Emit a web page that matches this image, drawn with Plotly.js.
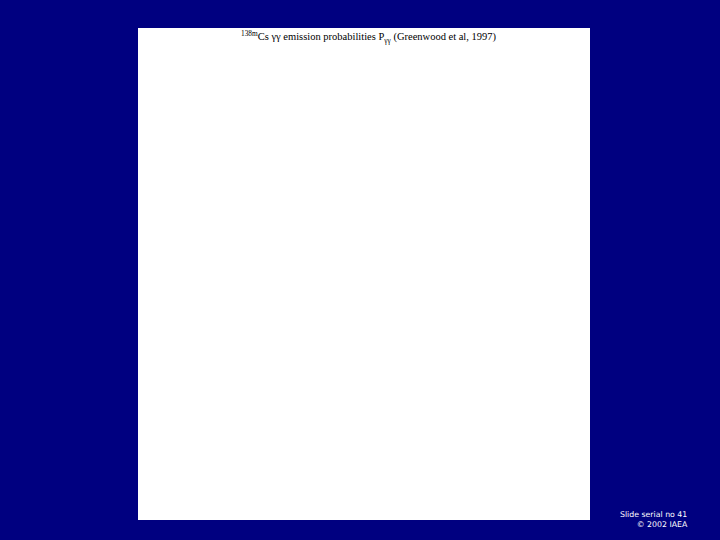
<!DOCTYPE html>
<html>
<head>
<meta charset="utf-8">
<script src="https://cdn.plot.ly/plotly-3.0.1.min.js"></script>
<style>
  html, body { margin: 0; padding: 0; background: #000080; }
  #chart { width: 720px; height: 540px; }
</style>
</head>
<body>
<div id="chart"></div>
<script>
// the slide holds an empty panel: no series were plotted
const energies = [];
const probabilities = [];

const nuclide = "<sup>138m</sup>Cs";
const titleText = nuclide + " γγ emission probabilities P<sub>γγ</sub> (Greenwood et al, 1997)";
const footerLines = ["Slide serial no 41", "© 2002 IAEA"];

const data = [
  {
    x: energies,
    y: probabilities,
    type: "scatter",
    mode: "markers",
    marker: { color: "black" },
    hoverinfo: "skip"
  }
];

const layout = {
  width: 720,
  height: 540,
  paper_bgcolor: "#000080",
  plot_bgcolor: "#ffffff",
  margin: { l: 138, r: 130, t: 28, b: 20 },
  showlegend: false,
  xaxis: { visible: false, showgrid: false, zeroline: false, range: [0, 1] },
  yaxis: { visible: false, showgrid: false, zeroline: false, range: [0, 1] },
  annotations: [
    {
      text: titleText,
      xref: "paper", yref: "paper",
      x: 0.51, y: 0.981,
      xanchor: "center", yanchor: "middle",
      showarrow: false,
      font: { family: "Liberation Serif, Times New Roman, serif", size: 10.5, color: "#000000" }
    },
    {
      text: footerLines.join("<br>"),
      xref: "paper", yref: "paper",
      x: 1.222, y: 0.002,
      xanchor: "right", yanchor: "middle",
      align: "right",
      showarrow: false,
      font: { family: "DejaVu Sans, sans-serif", size: 7.8, color: "#ffffff" }
    }
  ]
};

Plotly.newPlot("chart", data, layout, { displayModeBar: false, staticPlot: true });
</script>
</body>
</html>
